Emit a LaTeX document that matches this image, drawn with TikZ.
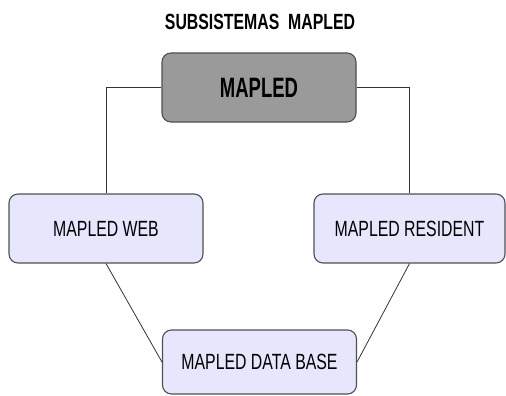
\documentclass[tikz,border=0pt]{standalone}
\usepackage{fontspec}
\setmainfont{Liberation Sans}[FakeStretch=0.72]
\newfontfamily\tightfont{Liberation Sans}[FakeStretch=0.66]
\usetikzlibrary{positioning, calc}
\definecolor{boxgray}{RGB}{154,154,154}
\definecolor{lavender}{RGB}{230,230,252}
\definecolor{edgegray}{RGB}{80,80,80}

\tikzset{
  sysbox/.style={draw=edgegray, line width=1.1pt, rounded corners=9pt, fill=lavender,
    minimum width=194pt, minimum height=69pt, inner sep=0pt, font=\fontsize{22}{24}\selectfont},
  mainbox/.style={sysbox, fill=boxgray, font=\tightfont\fontsize{28}{30}\selectfont\bfseries},
  link/.style={draw=black!80, line width=0.8pt}
}

\begin{document}
\begin{tikzpicture}[x=1pt, y=-1pt]
  \useasboundingbox (0,0) rectangle (506,396);
  \node[font=\fontsize{22}{24}\selectfont\bfseries] (title) at (260,22) {SUBSISTEMAS\ \ MAPLED};
  \node[mainbox] (mapled) at (259,87.5) {MAPLED};
  \node[sysbox] (web) at (106,228.5) {MAPLED WEB};
  \node[sysbox, minimum width=191pt] (resident) at (409.5,228.5) {MAPLED RESIDENT};
  \node[sysbox, minimum height=64pt] (db) at (259.5,362) {MAPLED DATA BASE};
  \draw[link] (mapled.west) -| (web.north);
  \draw[link] (mapled.east) -| (resident.north);
  \draw[link] (web.south) -- (db.west);
  \draw[link] (resident.south) -- (db.east);
\end{tikzpicture}
\end{document}
